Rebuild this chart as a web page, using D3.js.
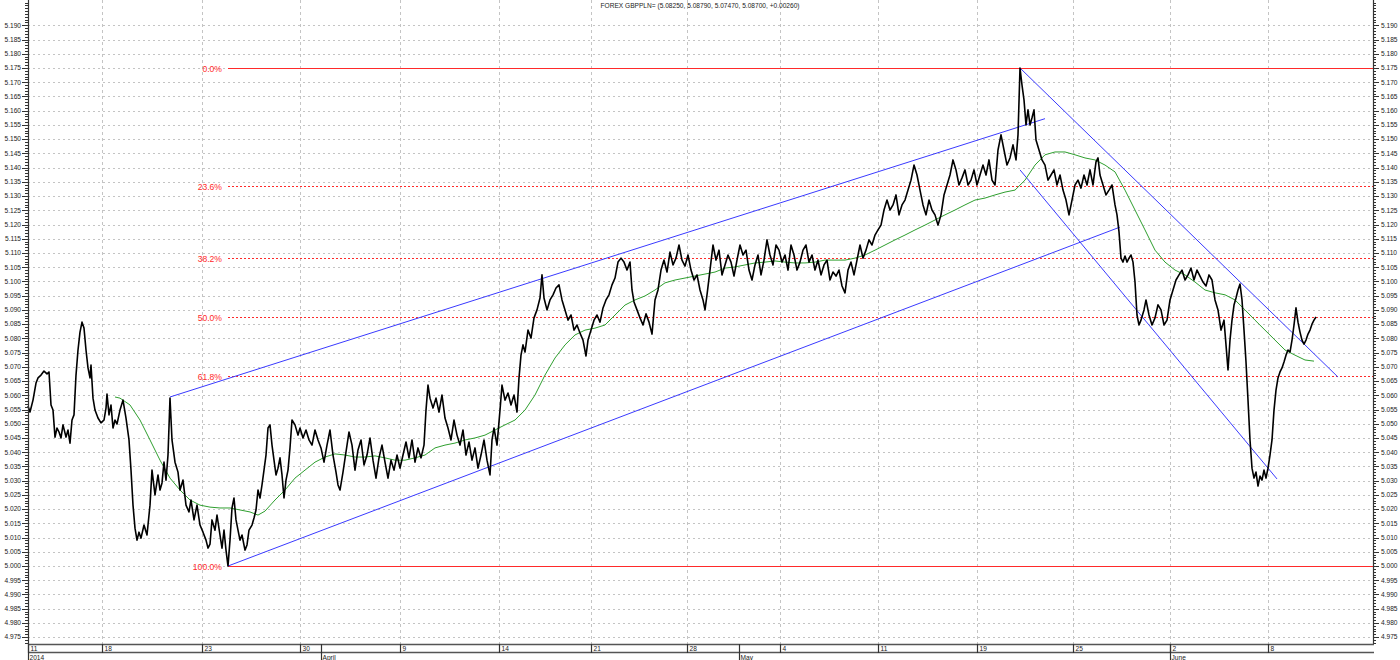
<!DOCTYPE html>
<html><head><meta charset="utf-8">
<script src="https://cdn.jsdelivr.net/npm/d3@7"></script>
<style>body{margin:0;background:#fff}svg{display:block;font-family:"Liberation Sans",Arial,sans-serif}</style>
</head><body><svg id="c" width="1400" height="660"></svg>
<script>
const title = "FOREX GBPPLN= (5.08250, 5.08790, 5.07470, 5.08700, +0.00260)";
// [bar index, price]
const price = [[0,5.0562],[2,5.0541],[5,5.0583],[8,5.0643],[10,5.0661],[13,5.0671],[16,5.0685],[19,5.0675],[21,5.0682],[23,5.0566],[25,5.0548],[27,5.0453],[29,5.0485],[31,5.0471],[33,5.0450],[35,5.0496],[38,5.0453],[40,5.0478],[42,5.0432],[44,5.0513],[46,5.0531],[48,5.0671],[50,5.0759],[52,5.0822],[54,5.0857],[56,5.0836],[58,5.0759],[60,5.0696],[62,5.0661],[63,5.0706],[65,5.0590],[67,5.0548],[70,5.0520],[73,5.0503],[76,5.0513],[78,5.0555],[79,5.0604],[81,5.0531],[83,5.0566],[85,5.0485],[87,5.0513],[89,5.0499],[92,5.0548],[95,5.0583],[98,5.0520],[101,5.0443],[103,5.0337],[105,5.0214],[107,5.0133],[109,5.0091],[111,5.0119],[113,5.0098],[116,5.0144],[119,5.0109],[122,5.0214],[124,5.0337],[127,5.0250],[130,5.0320],[132,5.0267],[134,5.0292],[136,5.0365],[138,5.0302],[140,5.0390],[142,5.0590],[144,5.0443],[147,5.0365],[150,5.0330],[152,5.0267],[155,5.0302],[158,5.0214],[161,5.0190],[163,5.0232],[166,5.0162],[169,5.0214],[172,5.0144],[175,5.0119],[178,5.0091],[180,5.0063],[182,5.0077],[184,5.0162],[187,5.0126],[189,5.0179],[192,5.0109],[194,5.0063],[196,5.0126],[198,5.0056],[200,5.0000],[202,5.0091],[204,5.0204],[206,5.0239],[208,5.0162],[210,5.0126],[212,5.0091],[214,5.0109],[217,5.0056],[219,5.0074],[221,5.0126],[224,5.0144],[226,5.0169],[228,5.0197],[230,5.0267],[232,5.0239],[234,5.0285],[236,5.0337],[238,5.0390],[240,5.0485],[242,5.0496],[244,5.0425],[246,5.0372],[248,5.0320],[250,5.0344],[252,5.0380],[254,5.0320],[256,5.0239],[258,5.0302],[260,5.0337],[262,5.0415],[264,5.0513],[267,5.0496],[270,5.0460],[272,5.0485],[275,5.0450],[278,5.0478],[281,5.0443],[284,5.0425],[287,5.0478],[290,5.0443],[293,5.0415],[296,5.0365],[299,5.0425],[302,5.0478],[305,5.0390],[308,5.0330],[310,5.0285],[312,5.0267],[315,5.0330],[318,5.0401],[321,5.0471],[324,5.0425],[327,5.0337],[330,5.0408],[333,5.0443],[336,5.0355],[339,5.0390],[342,5.0450],[345,5.0372],[348,5.0309],[351,5.0380],[354,5.0425],[357,5.0365],[360,5.0309],[363,5.0372],[366,5.0337],[369,5.0390],[372,5.0344],[375,5.0390],[378,5.0436],[381,5.0380],[384,5.0443],[387,5.0365],[390,5.0415],[393,5.0380],[396,5.0425],[398,5.0548],[400,5.0636],[402,5.0590],[405,5.0555],[408,5.0590],[411,5.0541],[414,5.0601],[417,5.0520],[420,5.0485],[423,5.0443],[426,5.0513],[429,5.0460],[432,5.0425],[435,5.0478],[438,5.0390],[441,5.0436],[444,5.0372],[447,5.0415],[450,5.0344],[453,5.0390],[456,5.0443],[459,5.0372],[462,5.0320],[464,5.0443],[466,5.0485],[469,5.0425],[472,5.0548],[474,5.0636],[477,5.0583],[480,5.0608],[483,5.0566],[486,5.0601],[489,5.0541],[491,5.0661],[493,5.0741],[495,5.0777],[497,5.0752],[500,5.0829],[503,5.0801],[506,5.0872],[509,5.0900],[512,5.0942],[514,5.1023],[516,5.0942],[519,5.0900],[522,5.0935],[525,5.0953],[528,5.0977],[531,5.0988],[534,5.0935],[537,5.0900],[540,5.0864],[543,5.0882],[546,5.0829],[549,5.0847],[552,5.0819],[555,5.0794],[558,5.0738],[560,5.0794],[563,5.0829],[566,5.0864],[569,5.0882],[572,5.0857],[575,5.0907],[578,5.0935],[581,5.0953],[584,5.0988],[587,5.1012],[590,5.1068],[593,5.1082],[596,5.1068],[599,5.1040],[602,5.1068],[604,5.0970],[606,5.0928],[609,5.0900],[612,5.0872],[615,5.0847],[618,5.0886],[621,5.0857],[624,5.0815],[627,5.0935],[630,5.0970],[633,5.1040],[636,5.1075],[639,5.1033],[642,5.1103],[645,5.1058],[648,5.1082],[651,5.1128],[654,5.1075],[657,5.1054],[660,5.1093],[663,5.1040],[666,5.1005],[669,5.1023],[672,5.0970],[675,5.0935],[677,5.0900],[679,5.0953],[682,5.1040],[685,5.1128],[688,5.1075],[691,5.1110],[694,5.1023],[697,5.1058],[700,5.1093],[703,5.1068],[706,5.1019],[709,5.1075],[712,5.1128],[715,5.1093],[718,5.1110],[721,5.1040],[724,5.1005],[727,5.1058],[730,5.1093],[733,5.1023],[736,5.1075],[739,5.1146],[742,5.1093],[745,5.1058],[748,5.1128],[751,5.1110],[754,5.1068],[757,5.1093],[760,5.1040],[763,5.1128],[766,5.1093],[769,5.1040],[772,5.1068],[775,5.1110],[778,5.1128],[781,5.1068],[784,5.1093],[787,5.1040],[790,5.1075],[793,5.1023],[796,5.1058],[799,5.1075],[802,5.1005],[805,5.1033],[808,5.1019],[811,5.1040],[814,5.0984],[817,5.0960],[820,5.1040],[823,5.1068],[826,5.1023],[829,5.1075],[832,5.1128],[835,5.1082],[838,5.1110],[841,5.1146],[844,5.1128],[847,5.1163],[850,5.1181],[853,5.1198],[856,5.1251],[859,5.1286],[862,5.1251],[865,5.1269],[868,5.1304],[871,5.1234],[874,5.1269],[877,5.1286],[880,5.1321],[883,5.1356],[886,5.1409],[889,5.1374],[892,5.1321],[895,5.1269],[898,5.1234],[901,5.1286],[904,5.1251],[907,5.1234],[910,5.1198],[913,5.1234],[916,5.1304],[919,5.1339],[922,5.1374],[925,5.1427],[928,5.1392],[931,5.1339],[934,5.1364],[937,5.1392],[940,5.1339],[943,5.1356],[946,5.1392],[949,5.1339],[952,5.1374],[955,5.1409],[958,5.1374],[961,5.1427],[964,5.1356],[967,5.1339],[970,5.1462],[973,5.1515],[976,5.1462],[979,5.1409],[982,5.1434],[985,5.1480],[988,5.1427],[990,5.1515],[992,5.1750],[994,5.1690],[996,5.1638],[998,5.1550],[1000,5.1603],[1002,5.1550],[1004,5.1575],[1006,5.1603],[1008,5.1497],[1011,5.1462],[1014,5.1427],[1017,5.1409],[1020,5.1356],[1023,5.1374],[1026,5.1392],[1029,5.1339],[1032,5.1374],[1035,5.1321],[1038,5.1286],[1041,5.1234],[1044,5.1286],[1047,5.1339],[1050,5.1356],[1053,5.1328],[1056,5.1374],[1059,5.1339],[1062,5.1392],[1065,5.1339],[1068,5.1420],[1070,5.1434],[1072,5.1374],[1075,5.1339],[1078,5.1304],[1081,5.1321],[1084,5.1339],[1087,5.1269],[1089,5.1234],[1091,5.1174],[1093,5.1082],[1095,5.1068],[1097,5.1089],[1099,5.1068],[1101,5.1082],[1103,5.1093],[1105,5.1068],[1107,5.0998],[1109,5.0882],[1111,5.0847],[1113,5.0864],[1116,5.0900],[1118,5.0935],[1121,5.0882],[1124,5.0847],[1127,5.0872],[1130,5.0918],[1133,5.0900],[1136,5.0847],[1139,5.0864],[1142,5.0935],[1145,5.0970],[1148,5.1005],[1151,5.1023],[1154,5.1040],[1157,5.1005],[1160,5.1023],[1163,5.1047],[1166,5.1005],[1169,5.1040],[1172,5.1019],[1175,5.0998],[1178,5.0984],[1181,5.1023],[1184,5.1005],[1187,5.0935],[1190,5.0900],[1193,5.0829],[1196,5.0864],[1198,5.0777],[1200,5.0689],[1202,5.0794],[1204,5.0864],[1206,5.0917],[1208,5.0942],[1210,5.0970],[1212,5.0991],[1214,5.0935],[1216,5.0829],[1218,5.0717],[1220,5.0583],[1222,5.0443],[1224,5.0344],[1226,5.0309],[1228,5.0330],[1230,5.0281],[1232,5.0316],[1234,5.0302],[1236,5.0337],[1238,5.0309],[1240,5.0344],[1242,5.0390],[1244,5.0443],[1246,5.0548],[1248,5.0618],[1250,5.0661],[1252,5.0682],[1254,5.0696],[1256,5.0717],[1258,5.0741],[1260,5.0759],[1262,5.0752],[1264,5.0794],[1266,5.0847],[1268,5.0907],[1270,5.0857],[1272,5.0822],[1274,5.0794],[1276,5.0780],[1278,5.0794],[1280,5.0815],[1282,5.0829],[1284,5.0850],[1286,5.0864],[1288,5.0875]];
const movingAvg = [[87,5.0594],[92,5.0590],[102,5.0566],[112,5.0513],[122,5.0443],[132,5.0372],[142,5.0309],[152,5.0267],[162,5.0232],[172,5.0214],[182,5.0207],[192,5.0204],[202,5.0204],[212,5.0197],[222,5.0190],[230,5.0179],[237,5.0193],[247,5.0232],[257,5.0267],[267,5.0309],[277,5.0337],[287,5.0365],[297,5.0383],[307,5.0394],[317,5.0390],[327,5.0383],[337,5.0383],[347,5.0387],[357,5.0380],[367,5.0372],[377,5.0372],[387,5.0380],[397,5.0390],[407,5.0415],[417,5.0425],[427,5.0432],[437,5.0443],[447,5.0450],[457,5.0460],[467,5.0478],[477,5.0496],[487,5.0513],[497,5.0548],[507,5.0601],[517,5.0671],[527,5.0731],[537,5.0777],[547,5.0812],[557,5.0829],[567,5.0836],[577,5.0847],[587,5.0882],[597,5.0917],[607,5.0935],[617,5.0949],[627,5.0970],[637,5.0995],[647,5.1005],[657,5.1012],[667,5.1019],[677,5.1026],[687,5.1033],[697,5.1047],[707,5.1051],[717,5.1058],[727,5.1065],[737,5.1068],[747,5.1072],[757,5.1068],[767,5.1065],[777,5.1065],[787,5.1068],[797,5.1075],[807,5.1075],[817,5.1075],[827,5.1082],[837,5.1093],[847,5.1110],[857,5.1128],[867,5.1146],[877,5.1163],[887,5.1181],[897,5.1198],[907,5.1216],[917,5.1234],[927,5.1251],[937,5.1269],[947,5.1286],[957,5.1293],[967,5.1304],[977,5.1314],[987,5.1321],[997,5.1356],[1007,5.1409],[1017,5.1445],[1027,5.1455],[1037,5.1455],[1047,5.1445],[1057,5.1434],[1067,5.1427],[1077,5.1409],[1087,5.1385],[1097,5.1321],[1107,5.1251],[1117,5.1181],[1127,5.1110],[1137,5.1068],[1147,5.1040],[1157,5.1023],[1167,5.0998],[1177,5.0970],[1187,5.0960],[1197,5.0953],[1207,5.0935],[1217,5.0900],[1227,5.0864],[1237,5.0829],[1247,5.0794],[1257,5.0759],[1267,5.0741],[1277,5.0724],[1286,5.0720]];
const dayTickBars = [0,74,174,272,372,471,563,659,752,850,949,1045,1142,1240];
const dayTickLabels = ["11","18","23","30","9","14","21","28","4","11","19","25","2","8"];
const monthTickBars = [0,293,711,1142];
const monthTickLabels = ["2014","April","May","June"];
const fibHigh = 5.175, fibLow = 5.000, fibStartBar = 200;
const fibPcts = [0, 23.6, 38.2, 50.0, 61.8, 100.0];
const channelLines = [
  [[142,5.0594],[1017,5.1572]],
  [[200,5.0000],[1092,5.1191]],
  [[992,5.1750],[1310,5.0664]],
  [[992,5.1392],[1249,5.0306]]
];
const yMajor = d3.range(0,44).map(i => +(4.975 + i*0.005).toFixed(3));
const yMinor = d3.range(4973, 5199).map(v => v/1000);

const svg = d3.select("#c");
const L = 28, R = 1373, B = 644;
const x = d3.scaleLinear().domain([0,1345]).range([L,R]);
const y = d3.scaleLinear().domain([4.9726,5.1989]).range([B,0]);

// grid
svg.append("g").selectAll("line").data(yMajor).join("line")
  .attr("x1",L).attr("x2",R).attr("y1",d=>Math.round(y(d))+0.5).attr("y2",d=>Math.round(y(d))+0.5)
  .attr("stroke","#c4c4c4").attr("stroke-dasharray","2,3");
svg.append("g").selectAll("line").data(dayTickBars.slice(1)).join("line")
  .attr("x1",d=>Math.round(x(d))+0.5).attr("x2",d=>Math.round(x(d))+0.5).attr("y1",0).attr("y2",B)
  .attr("stroke","#c4c4c4").attr("stroke-dasharray","3,3");

// title
svg.append("text").attr("x",700).attr("y",7.5).attr("text-anchor","middle")
  .attr("font-size",6.6).attr("fill","#222").text(title);

// fibonacci
const fibG = svg.append("g");
fibPcts.forEach(p => {
  const v = fibHigh - p/100*(fibHigh-fibLow);
  const yy = Math.round(y(v))+0.5;
  fibG.append("line").attr("x1",x(fibStartBar)).attr("x2",R).attr("y1",yy).attr("y2",yy)
    .attr("stroke","#ff2a2a").attr("stroke-width",1)
    .attr("stroke-dasharray",(p===0||p===100)?null:"2,2");
  fibG.append("text").attr("x",x(fibStartBar)-6).attr("y",yy).attr("dy","0.35em")
    .attr("text-anchor","end").attr("font-size",8.6).attr("fill","#ff2a2a").text(p.toFixed(1)+"%");
});

// channels
svg.append("g").selectAll("line").data(channelLines).join("line")
  .attr("x1",d=>x(d[0][0])).attr("y1",d=>y(d[0][1])).attr("x2",d=>x(d[1][0])).attr("y2",d=>y(d[1][1]))
  .attr("stroke","#3a3aff").attr("stroke-width",1);

const line = d3.line().x(d=>x(d[0])).y(d=>y(d[1]));
svg.append("path").attr("d",line(movingAvg)).attr("fill","none").attr("stroke","#2f9f2f").attr("stroke-width",1);
svg.append("path").attr("d",line(price)).attr("fill","none").attr("stroke","#000").attr("stroke-width",1.6).attr("stroke-linejoin","round");

// axes
const ax = svg.append("g").attr("stroke","#333");
ax.append("line").attr("x1",L+0.5).attr("x2",L+0.5).attr("y1",0).attr("y2",B).attr("stroke-width",1.2);
ax.append("line").attr("x1",R+0.5).attr("x2",R+0.5).attr("y1",0).attr("y2",B).attr("stroke-width",1.2);
yMinor.forEach(v => {
  const yy = Math.round(y(v))+0.5;
  ax.append("line").attr("x1",L-3).attr("x2",L).attr("y1",yy).attr("y2",yy);
  ax.append("line").attr("x1",R).attr("x2",R+3).attr("y1",yy).attr("y2",yy);
});
yMajor.forEach(v => {
  const yy = Math.round(y(v))+0.5;
  ax.append("line").attr("x1",L-6).attr("x2",L).attr("y1",yy).attr("y2",yy);
  ax.append("line").attr("x1",R).attr("x2",R+6).attr("y1",yy).attr("y2",yy);
});
const lab = svg.append("g").attr("font-size",6.6).attr("fill","#222");
yMajor.forEach(v => {
  lab.append("text").attr("x",L-7).attr("y",y(v)).attr("dy","0.35em").attr("text-anchor","end").text(v.toFixed(3));
  lab.append("text").attr("x",R+8).attr("y",y(v)).attr("dy","0.35em").text(v.toFixed(3));
});

// bottom date band
const bg = svg.append("g");
bg.append("line").attr("x1",L).attr("x2",R+1).attr("y1",B+0.5).attr("y2",B+0.5).attr("stroke","#555").attr("stroke-width",1.5);
bg.append("line").attr("x1",L).attr("x2",R+1).attr("y1",B+8.5).attr("y2",B+8.5).attr("stroke","#555").attr("stroke-width",1.5);
dayTickBars.forEach((b,i) => {
  const xx = Math.round(x(b))+0.5;
  bg.append("line").attr("x1",xx).attr("x2",xx).attr("y1",B).attr("y2",B+9).attr("stroke","#333").attr("stroke-width",1.2);
  bg.append("text").attr("x",xx+2).attr("y",B+7).attr("font-size",6.6).attr("fill","#222").text(dayTickLabels[i]);
});
monthTickBars.forEach((b,i) => {
  const xx = Math.round(x(b))+0.5;
  bg.append("line").attr("x1",xx).attr("x2",xx).attr("y1",B).attr("y2",660).attr("stroke","#333").attr("stroke-width",1.2);
  bg.append("text").attr("x",xx+1).attr("y",B+15.5).attr("font-size",6.6).attr("fill","#222").text(monthTickLabels[i]);
});
</script></body></html>
